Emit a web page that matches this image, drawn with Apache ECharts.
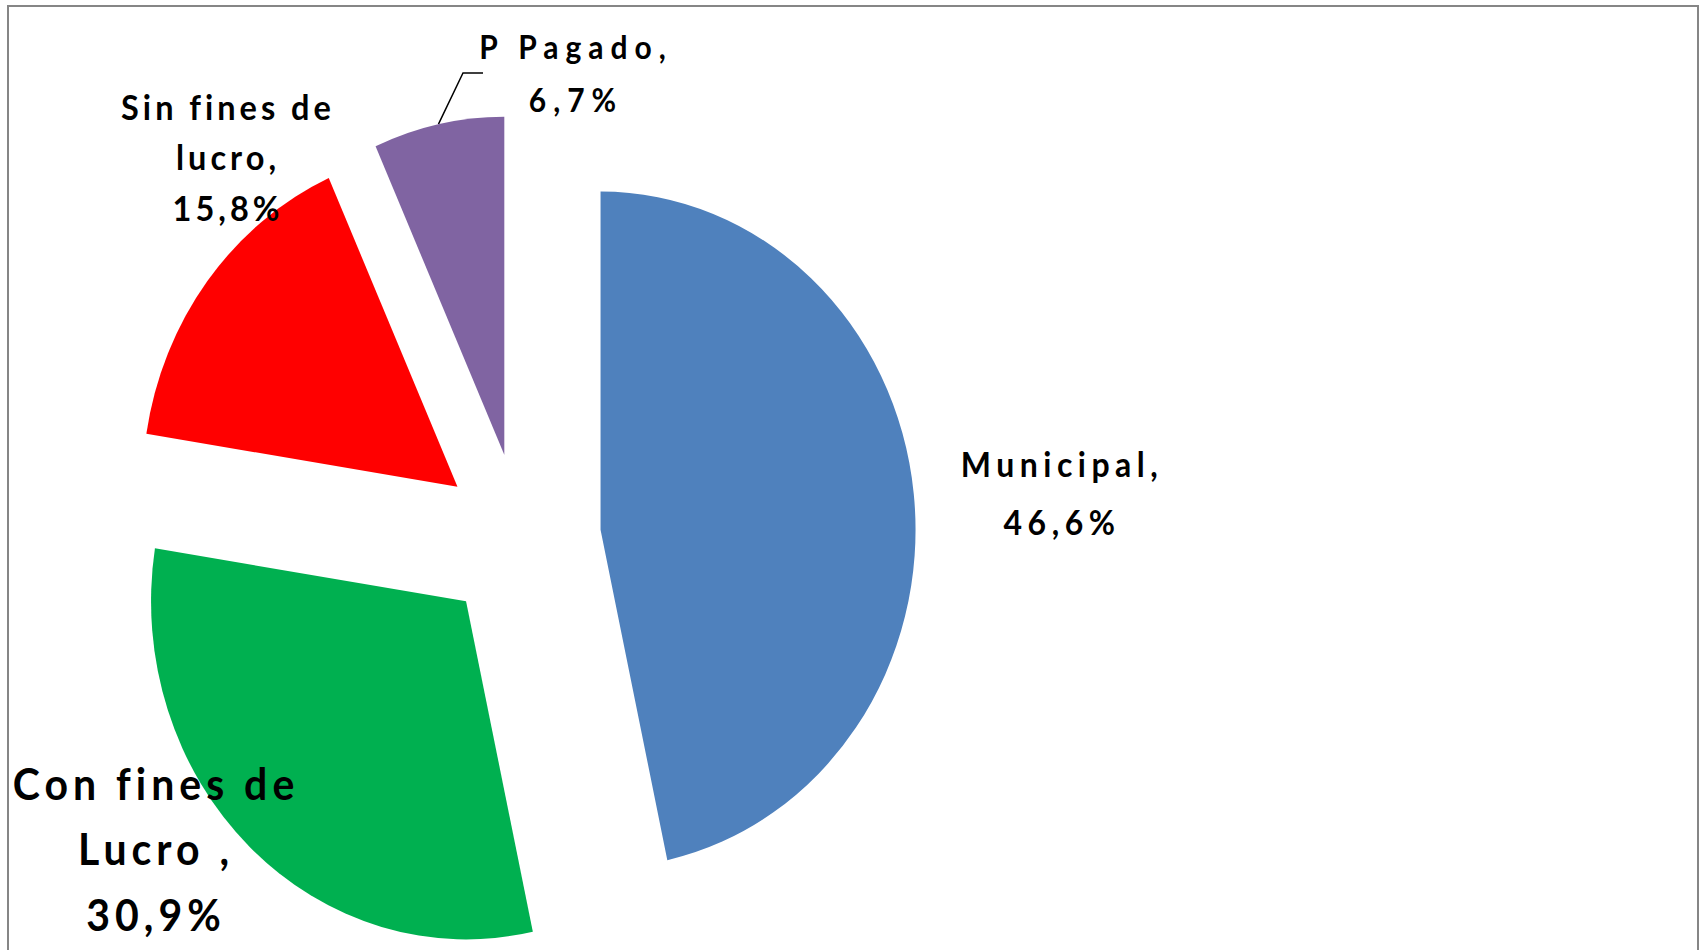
<!DOCTYPE html>
<html>
<head>
<meta charset="utf-8">
<script src="https://cdn.jsdelivr.net/npm/echarts@6/dist/echarts.min.js"></script>
<style>
  html, body { margin: 0; padding: 0; background: #fff; overflow: hidden; }
  #frame { position: absolute; left: 7px; top: 5px; width: 1692px; height: 980px; box-sizing: border-box; border: 2px solid #868686; }
  /* the original picture is stretched vertically, so the chart is too */
  #main { position: absolute; left: 0; top: 0; width: 1702px; height: 885px; transform: scaleY(1.0734); transform-origin: 0 0; }
</style>
</head>
<body>
<div id="frame"></div>
<div id="main"></div>
<script>
var categories = ['Municipal', 'Con fines de\nLucro ', 'Sin fines de\nlucro', 'P Pagado'];
var values = [46.6, 30.9, 15.8, 6.7];
var colors = ['#4F81BD', '#00B050', '#FF0000', '#8064A2'];

// label placement, text size and letter spacing per slice
var labelPos = [[1062, 459], [156, 790], [228, 146], [576, 68]];
var labelSize = [[32, 54], [41, 61], [32.5, 47], [30, 49]];
var labelSpacing = [5.5, 5, 4, 7];

var pieCenter = [521, 502];
var pieRadius = 315;
var explode = 80;

function labelText(i) {
  return categories[i] + ',\n' + values[i].toFixed(1).replace('.', ',') + '%';
}

var chart = echarts.init(document.getElementById('main'), null, { renderer: 'svg' });

// every slice is pulled out along its own bisector, so each one gets its own pie
var total = values.reduce(function (a, b) { return a + b; }, 0);
var acc = 0;
var series = categories.map(function (name, i) {
  var mid = (acc + values[i] / 2) / total * 2 * Math.PI;
  acc += values[i];
  return {
    type: 'pie',
    center: [pieCenter[0] + explode * Math.sin(mid), pieCenter[1] - explode * Math.cos(mid)],
    radius: pieRadius,
    startAngle: 90,
    clockwise: true,
    avoidLabelOverlap: false,
    silent: true,
    emphasis: { disabled: true },
    itemStyle: { borderWidth: 0 },
    label: {
      show: false,
      position: 'outside',
      color: '#000',
      fontFamily: 'Lato',
      fontWeight: 'bold',
      formatter: function (p) { return labelText(p.dataIndex); }
    },
    labelLine: {
      show: false,
      length: 10,
      length2: 20,
      lineStyle: { color: '#000', width: 1.5 }
    },
    labelLayout: function (params) {
      if (params.dataIndex !== i) return;
      var p = labelPos[i];
      return { x: p[0], y: p[1], align: 'center', verticalAlign: 'middle' };
    },
    data: values.map(function (v, j) {
      return {
        name: categories[j],
        value: v,
        itemStyle: { color: j === i ? colors[j] : 'transparent' },
        label: {
          show: j === i,
          fontSize: labelSize[j][0],
          lineHeight: labelSize[j][1],
          width: j === 3 ? 186 : undefined
        },
        labelLine: { show: j === i && j === 3 }
      };
    })
  };
});

chart.setOption({
  animation: false,
  series: series
});

// spread the letters like the original labels
var spacingByLine = {};
categories.forEach(function (name, i) {
  labelText(i).split('\n').forEach(function (line) { spacingByLine[line.trim()] = labelSpacing[i]; });
});
document.querySelectorAll('#main text').forEach(function (t) {
  var s = spacingByLine[t.textContent.trim()];
  if (s != null) t.style.letterSpacing = s + 'px';
});
</script>
</body>
</html>
